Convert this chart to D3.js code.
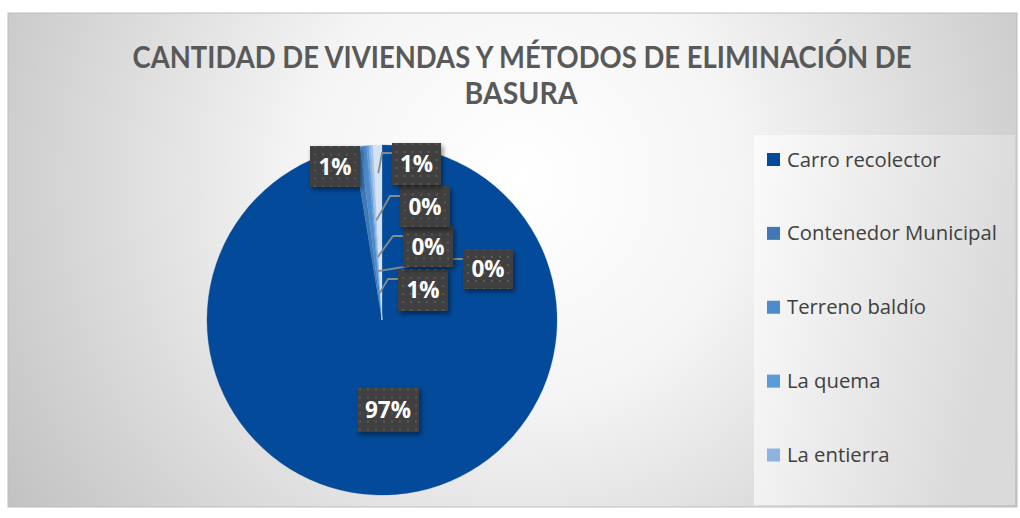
<!DOCTYPE html>
<html>
<head>
<meta charset="utf-8">
<script src="https://cdn.jsdelivr.net/npm/d3@7"></script>
<style>
  html, body { margin: 0; padding: 0; background: #ffffff; }
  svg { display: block; }
</style>
</head>
<body>
<div id="chart"></div>
<script>
// Household waste disposal methods (share of dwellings, %)
const categories = ["Carro recolector", "Contenedor Municipal", "Terreno baldío", "La quema", "La entierra", "Otro", "Ninguno"];
const values = [97.4, 0.6, 0.6, 0.2, 0.2, 0.2, 0.8];
const legendCategories = ["Carro recolector", "Contenedor Municipal", "Terreno baldío", "La quema", "La entierra"];
const sliceColors = ["#034a9a", "#3f78b4", "#4d8bcb", "#5b9bd8", "#8fb3e0", "#a9c6ea", "#d4e2f3"];
const titleLines = ["CANTIDAD DE VIVIENDAS Y MÉTODOS DE ELIMINACIÓN DE", "BASURA"];

const W = 1020, H = 518;
const svg = d3.select("#chart").append("svg").attr("width", W).attr("height", H);
const defs = svg.append("defs");

// chart area background
const bg = defs.append("radialGradient").attr("id", "bgGrad")
  .attr("gradientUnits", "userSpaceOnUse")
  .attr("cx", 520).attr("cy", 180).attr("r", 620);
bg.append("stop").attr("offset", "0").attr("stop-color", "#ffffff");
bg.append("stop").attr("offset", "0.35").attr("stop-color", "#f5f5f5");
bg.append("stop").attr("offset", "1").attr("stop-color", "#c0c0c0");

const lg = defs.append("linearGradient").attr("id", "legGrad")
  .attr("x1", "0").attr("y1", "0").attr("x2", "1").attr("y2", "0.3");
lg.append("stop").attr("offset", "0").attr("stop-color", "#fbfbfb");
lg.append("stop").attr("offset", "1").attr("stop-color", "#dadada");

// dotted texture for label boxes
const pat = defs.append("pattern").attr("id", "dots")
  .attr("patternUnits", "userSpaceOnUse").attr("width", 8).attr("height", 8);
pat.append("rect").attr("width", 8).attr("height", 8).attr("fill", "#404040");
pat.append("rect").attr("x", 3).attr("y", 3).attr("width", 2).attr("height", 2).attr("fill", "#585858");

const shadow = defs.append("filter").attr("id", "shadow")
  .attr("x", "-30%").attr("y", "-30%").attr("width", "170%").attr("height", "170%");
shadow.append("feDropShadow").attr("dx", 2).attr("dy", 3).attr("stdDeviation", 2.5)
  .attr("flood-color", "#000").attr("flood-opacity", 0.45);

svg.append("rect").attr("x", 8).attr("y", 13).attr("width", 1009).attr("height", 494)
  .attr("fill", "url(#bgGrad)").attr("stroke", "#bdbdbd").attr("stroke-width", 1);

// title
const title = svg.append("g").attr("font-family", "Lato, 'Open Sans', sans-serif")
  .attr("font-weight", "bold").attr("fill", "#595959").attr("text-anchor", "middle");
title.append("text").attr("x", 522).attr("y", 68).attr("font-size", 30)
  .attr("textLength", 779).attr("lengthAdjust", "spacingAndGlyphs").text(titleLines[0]);
title.append("text").attr("x", 521).attr("y", 104).attr("font-size", 30)
  .attr("textLength", 113).attr("lengthAdjust", "spacingAndGlyphs").text(titleLines[1]);

// legend panel
svg.append("rect").attr("x", 754).attr("y", 135).attr("width", 261).attr("height", 370)
  .attr("fill", "url(#legGrad)");

const legendY = d3.scalePoint().domain(legendCategories).range([159.5, 455]);
const colorScale = d3.scaleOrdinal().domain(categories).range(sliceColors);
const leg = svg.append("g").selectAll("g").data(legendCategories).join("g")
  .attr("transform", d => `translate(767,${legendY(d)})`);
leg.append("rect").attr("x", 0).attr("y", -6.5).attr("width", 13).attr("height", 13)
  .attr("fill", d => colorScale(d));
leg.append("text").attr("x", 20).attr("y", 7).attr("font-family", "'Open Sans', sans-serif")
  .attr("font-size", 20.3).attr("fill", "#404040").text(d => d);

// pie
const cx = 382, cy = 320, R = 175;
const pie = d3.pie().sort(null).value(d => d.v);
const arcs = pie(categories.map((c, i) => ({ c, v: values[i] })));
const arc = d3.arc().innerRadius(0).outerRadius(R);
const g = svg.append("g").attr("transform", `translate(${cx},${cy})`);
g.selectAll("path").data(arcs).join("path")
  .attr("d", arc).attr("fill", d => colorScale(d.data.c))
  .attr("stroke", d => colorScale(d.data.c)).attr("stroke-width", 0.3);

// data labels: box centre relative to pie centre and leader anchor depth
const labelLayout = [
  { dx: 6, dy: 89.5, w: 62, h: 45, lead: null },
  { dx: -47, dy: -153.5, w: 50, h: 41, lead: null },
  { dx: 41, dy: -30, w: 50, h: 42, lead: 0.15 },
  { dx: 106, dy: -51, w: 50, h: 40, lead: 0.28 },
  { dx: 46, dy: -73.5, w: 50, h: 41, lead: 0.36 },
  { dx: 43, dy: -113.5, w: 50, h: 41, lead: 0.57 },
  { dx: 34.5, dy: -156, w: 49, h: 42, lead: 0.84 }
];
const pctFmt = v => Math.round(v) + "%";

const leaders = g.append("g").attr("fill", "none").attr("stroke", "#8a8a8a").attr("stroke-width", 1.8);
arcs.forEach((a, i) => {
  const L = labelLayout[i];
  if (L.lead == null) return;
  const mid = (a.startAngle + a.endAngle) / 2;
  const ax = Math.sin(mid) * R * L.lead, ay = -Math.cos(mid) * R * L.lead;
  const bx = L.dx - L.w / 2, by = L.dy - L.h / 2 + 10;
  leaders.append("path").attr("d", d3.line()([[bx, by], [bx - 10, by], [ax, ay]]));
});

const labels = g.append("g").selectAll("g").data(arcs).join("g")
  .attr("transform", (d, i) => `translate(${labelLayout[i].dx},${labelLayout[i].dy})`);
labels.append("rect")
  .attr("x", (d, i) => -labelLayout[i].w / 2).attr("y", (d, i) => -labelLayout[i].h / 2)
  .attr("width", (d, i) => labelLayout[i].w).attr("height", (d, i) => labelLayout[i].h)
  .attr("fill", "url(#dots)").attr("filter", "url(#shadow)");
labels.append("text").attr("text-anchor", "middle").attr("dy", "0.36em")
  .attr("font-family", "'Open Sans', sans-serif").attr("font-weight", "bold")
  .attr("font-size", 22.5).attr("fill", "#ffffff")
  .text(d => pctFmt(d.data.v));
</script>
</body>
</html>
